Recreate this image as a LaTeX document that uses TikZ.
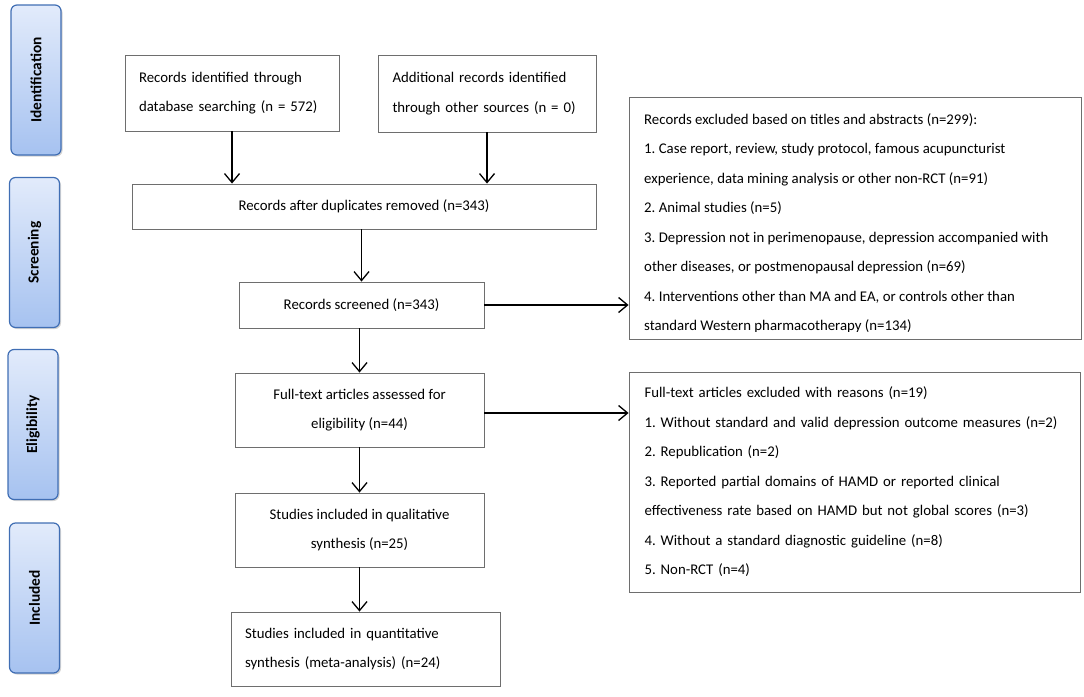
\documentclass[tikz,border=0pt]{standalone}
\usepackage{fontspec}
\setmainfont{Carlito}
\usetikzlibrary{arrows.meta,shadows}
\definecolor{boxgray}{RGB}{110,110,110}
\definecolor{sidetop}{RGB}{226,235,251}
\definecolor{sidebot}{RGB}{166,194,240}
\definecolor{sideedge}{RGB}{64,110,180}
\tikzset{
  box/.style={draw=boxgray, line width=0.9pt, rectangle, inner sep=0pt},
  txt/.style={font=\fontsize{14.8}{29.5}\selectfont\frenchspacing},
  side/.style={draw=sideedge, line width=1.2pt, rounded corners=6pt,
    top color=sidetop, bottom color=sidebot,
    drop shadow={shadow xshift=1.5pt, shadow yshift=-1.5pt, opacity=0.35},
    minimum width=50pt, minimum height=150pt, inner sep=0pt},
  sidetxt/.style={font=\fontsize{15.4}{17}\selectfont\bfseries, rotate=90},
  arr/.style={line width=1.3pt, -{Straight Barb[length=9pt,width=15pt,line width=1.3pt]}},
}
\begin{document}
\begin{tikzpicture}[x=1pt,y=-1pt]
\useasboundingbox (0,0) rectangle (1084,696);
% side labels
\node[side] (s1) at (36,80) {};
\node[sidetxt] (s1t) at (s1) {Identification};
\node[side] (s2) at (34.5,252.5) {};
\node[sidetxt] (s2t) at (s2) {Screening};
\node[side] (s3) at (33,424.5) {};
\node[sidetxt] (s3t) at (s3) {Eligibility};
\node[side] (s4) at (34.5,598) {};
\node[sidetxt] (s4t) at (s4) {Included};
% main boxes
\node[box, txt, minimum width=214, minimum height=76, align=left, text width=186, inner xsep=14pt] (b1) at (232,93)
  {Records identified through\\database searching (n = 572)};
\node[box, txt, minimum width=218, minimum height=77, align=left, text width=189, inner xsep=14.5pt] (b2) at (487,93.5)
  {Additional records identified\\through other sources (n = 0)};
\node[box, txt, minimum width=464, minimum height=45] (dup) at (364,206.5)
  {Records after duplicates removed (n=343)};
\node[box, txt, minimum width=245, minimum height=46] (scr) at (361.5,305)
  {Records screened (n=343)};
\node[box, txt, minimum width=249, minimum height=74, align=center] (elig) at (359.5,410)
  {Full-text articles assessed for\\eligibility (n=44)};
\node[box, txt, minimum width=249, minimum height=74, align=center] (qual) at (359.5,530)
  {Studies included in qualitative\\synthesis (n=25)};
\node[box, txt, minimum width=269, minimum height=74, align=left, text width=241, inner xsep=14pt] (quant) at (365.5,649)
  {Studies included in quantitative\\synthesis (meta-analysis) (n=24)};
% exclusion box 1 (text clipped at bottom)
\node[box, minimum width=452, minimum height=242] (ex1) at (855,218) {};
\begin{scope}
\clip ([yshift=-1pt]ex1.north west) rectangle ([yshift=7.5pt]ex1.south east);
\node[txt, anchor=north west, align=left, inner sep=0pt] (ex1t) at (644,113)
  {Records excluded based on titles and abstracts (n=299):\\
   1. Case report, review, study protocol, famous acupuncturist\\
   experience, data mining analysis or other non-RCT (n=91)\\
   2. Animal studies (n=5)\\
   3. Depression not in perimenopause, depression accompanied with\\
   other diseases, or postmenopausal depression (n=69)\\
   4. Interventions other than MA and EA, or controls other than\\
   standard Western pharmacotherapy (n=134)};
\end{scope}
% exclusion box 2
\node[box, txt, minimum width=451, minimum height=220, align=left, text width=420, inner xsep=15.5pt] (ex2) at (854.5,482)
  {Full-text articles excluded with reasons (n=19)\\
   1. Without standard and valid depression outcome measures (n=2)\\
   2. Republication (n=2)\\
   3. Reported partial domains of HAMD or reported clinical\\
   effectiveness rate based on HAMD but not global scores (n=3)\\
   4. Without a standard diagnostic guideline (n=8)\\
   5. Non-RCT (n=4)};
% connectors
\draw[arr] (b1.south) -- (b1.south |- dup.north);
\draw[arr] (b2.south) -- (b2.south |- dup.north);
\draw[arr] (scr.north |- dup.south) -- (scr.north);
\draw[arr] (elig.north |- scr.south) -- (elig.north);
\draw[arr] (elig.south) -- (qual.north);
\draw[arr] (qual.south) -- (qual.south |- quant.north);
\draw[arr] (scr.east) -- (scr.east -| ex1.west);
\draw[arr] ([yshift=-3pt]elig.east) -- ([yshift=-3pt]elig.east -| ex2.west);
\end{tikzpicture}
\end{document}
